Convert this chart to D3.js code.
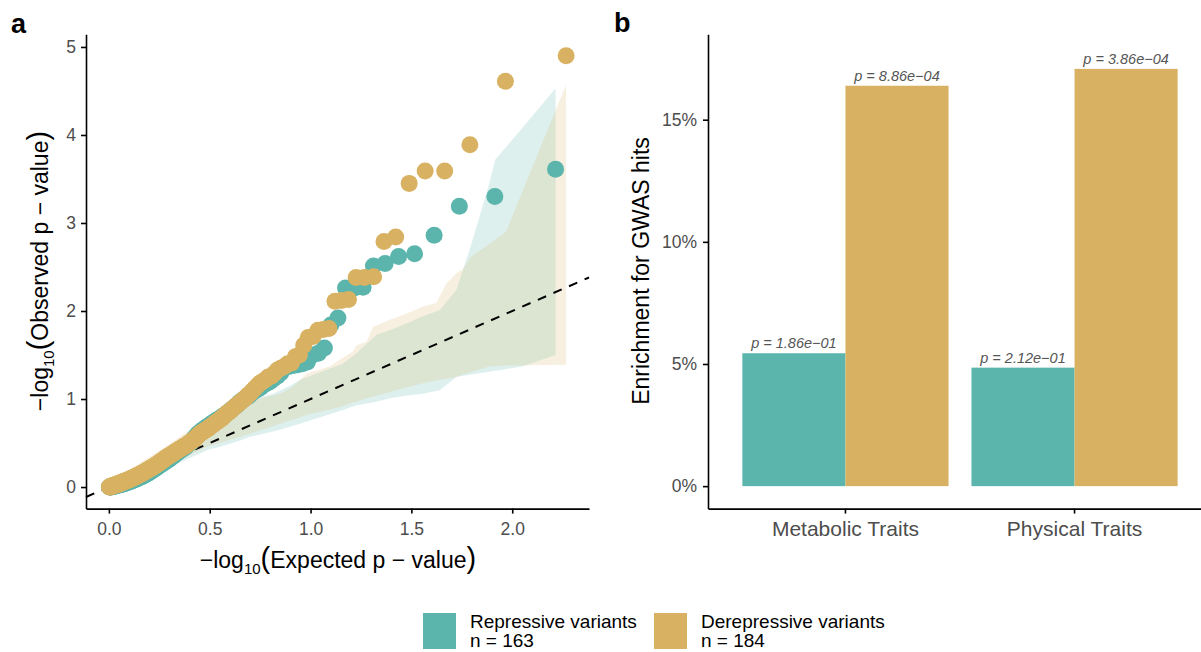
<!DOCTYPE html>
<html>
<head>
<meta charset="utf-8">
<title>QQ plot and GWAS enrichment</title>
<script src="https://d3js.org/d3.v7.min.js"></script>
<style>
    body { margin: 0; background: #fff; }
    svg text { font-family: "Liberation Sans", Arial, Helvetica, sans-serif; }
    .axis path, .axis line { stroke: #000; stroke-width: 1.6px; }
    .axis text { fill: #4d4d4d; }
</style>
</head>
<body>
<div id="chart"></div>
<script>
// 1. Data

// panel a: observed -log10(p), sorted by rank (largest first)
const repressiveObs = [
    3.61, 3.30, 3.19, 2.86, 2.65, 2.62, 2.54, 2.51, 2.27, 2.26, 2.26, 1.92, 1.84, 1.58, 1.52, 1.50,
    1.42, 1.40, 1.39, 1.38, 1.37, 1.36, 1.30, 1.26, 1.23, 1.20,
    1.18, 1.16, 1.13, 1.11, 1.09, 1.07, 1.04, 1.02, 1.00, 0.98,
    0.96, 0.93, 0.91, 0.89, 0.87, 0.85, 0.83, 0.81, 0.80, 0.78,
    0.77, 0.76, 0.74, 0.73, 0.72, 0.70, 0.69, 0.68, 0.66, 0.65,
    0.64, 0.62, 0.61, 0.59, 0.57, 0.55, 0.53, 0.51, 0.50, 0.49,
    0.48, 0.46, 0.45, 0.44, 0.43, 0.42, 0.41, 0.40, 0.39, 0.38, 0.37, 0.36, 0.35, 0.34, 0.33, 0.32,
    0.31, 0.31, 0.30, 0.29, 0.28, 0.28, 0.27, 0.26, 0.25, 0.25, 0.24, 0.23, 0.22, 0.22, 0.21, 0.20, 0.20, 0.19, 0.18, 0.18, 0.17,
    0.16, 0.16, 0.15, 0.15, 0.14, 0.14, 0.13, 0.13, 0.12, 0.12, 0.12, 0.11, 0.11, 0.10, 0.10, 0.10, 0.09, 0.09, 0.09, 0.08, 0.08, 0.08, 0.07, 0.07, 0.07, 0.06, 0.06,
    0.06, 0.06, 0.05, 0.05, 0.05, 0.05, 0.04, 0.04, 0.04, 0.04, 0.04, 0.03, 0.03, 0.03, 0.03, 0.03, 0.02, 0.02, 0.02, 0.02, 0.02, 0.02, 0.01, 0.01, 0.01, 0.01, 0.01, 0.01, 0.00, 0.00, 0.00, 0.00, 0.00
];
const derepressiveObs = [
    4.90, 4.61, 3.89, 3.59, 3.59, 3.45, 2.84, 2.79, 2.39, 2.38, 2.38, 2.13, 2.12, 2.11, 1.80, 1.79, 1.78, 1.71,
    1.70, 1.61, 1.50, 1.48, 1.41,
    1.40, 1.37, 1.35, 1.33, 1.29, 1.26, 1.25,
    1.22, 1.20, 1.18, 1.15, 1.12, 1.09, 1.06, 1.04, 1.01, 0.99,
    0.97, 0.95, 0.93, 0.91, 0.89, 0.87, 0.85, 0.84, 0.82, 0.80,
    0.78, 0.77, 0.75, 0.74, 0.73, 0.71, 0.70, 0.69, 0.67, 0.66,
    0.65, 0.64, 0.63, 0.62, 0.61, 0.60, 0.58, 0.57, 0.55, 0.54,
    0.53, 0.52, 0.51, 0.50, 0.49, 0.48, 0.47, 0.46, 0.46, 0.45,
    0.44, 0.43, 0.43, 0.42, 0.41, 0.40, 0.40, 0.39, 0.38, 0.37, 0.37, 0.36,
    0.35, 0.35, 0.34, 0.33, 0.33, 0.32, 0.31, 0.30, 0.30, 0.29, 0.28, 0.28, 0.27, 0.26, 0.26, 0.25, 0.24, 0.24, 0.23, 0.23, 0.22, 0.22, 0.21, 0.21,
    0.20, 0.20, 0.19, 0.19, 0.18, 0.18, 0.17, 0.17, 0.16, 0.16, 0.15, 0.15, 0.15, 0.14, 0.14, 0.13, 0.13, 0.13, 0.12, 0.12, 0.12, 0.11, 0.11, 0.11, 0.10, 0.10, 0.10, 0.09, 0.09, 0.09,
    0.08, 0.08, 0.08, 0.08, 0.07, 0.07, 0.07, 0.07, 0.06, 0.06, 0.06, 0.06, 0.05, 0.05, 0.05, 0.05, 0.04, 0.04, 0.04, 0.04, 0.03, 0.03, 0.03, 0.03, 0.03, 0.02, 0.02, 0.02, 0.02, 0.02, 0.01, 0.01, 0.01, 0.01, 0.01, 0.00, 0.00, 0.00
];

// null bands (expected, lower, upper)
const repBandX     = [0, 0.1, 0.2, 0.3, 0.4, 0.489, 0.568, 0.652, 0.701, 0.815, 0.899, 0.948, 1.160, 1.228, 1.327, 1.393, 1.480, 1.556, 1.640, 1.723, 1.796, 1.886, 1.916, 2.050, 2.215];
const repBandUpper = [0.03, 0.17, 0.32, 0.46, 0.62, 0.76, 0.84, 0.93, 0.99, 1.06, 1.15, 1.22, 1.40, 1.52, 1.73, 1.78, 1.86, 1.94, 2.01, 2.24, 2.75, 3.45, 3.72, 4.08, 4.53];
const repBandLower = [0.00, 0.05, 0.12, 0.22, 0.33, 0.42, 0.47, 0.53, 0.57, 0.63, 0.685, 0.72, 0.875, 0.93, 0.97, 1.01, 1.04, 1.06, 1.10, 1.25, 1.28, 1.31, 1.32, 1.37, 1.50];

const derBandX     = [0, 0.1, 0.2, 0.3, 0.4, 0.489, 0.652, 0.849, 0.899, 0.932, 0.981, 1.096, 1.146, 1.210, 1.228, 1.278, 1.310, 1.393, 1.475, 1.557, 1.623, 1.673, 1.722, 1.753, 1.797, 1.886, 1.969, 2.267];
const derBandUpper = [0.03, 0.19, 0.34, 0.49, 0.65, 0.80, 0.95, 1.06, 1.12, 1.18, 1.29, 1.37, 1.45, 1.54, 1.61, 1.65, 1.82, 1.90, 1.97, 2.05, 2.09, 2.31, 2.43, 2.47, 2.62, 2.76, 2.90, 4.57];
const derBandLower = [0.00, 0.06, 0.14, 0.25, 0.36, 0.46, 0.57, 0.72, 0.76, 0.78, 0.82, 0.88, 0.91, 0.96, 0.97, 1.01, 1.03, 1.08, 1.13, 1.18, 1.21, 1.23, 1.25, 1.28, 1.31, 1.37, 1.38, 1.39];

// panel b: enrichment (%)
const traitCategories = ["Metabolic Traits", "Physical Traits"];
const repressiveEnrich = [5.44, 4.85];
const derepressiveEnrich = [16.39, 17.08];
const repressivePval = ["1.86e\u221201", "2.12e\u221201"];
const derepressivePval = ["8.86e\u221204", "3.86e\u221204"];

const groupNames = ["Repressive variants", "Derepressive variants"];
const groupCounts = ["n = 163", "n = 184"];
const colRep = "#5BB5AC", colDer = "#D8B262";

// 2. SVG
const svg = d3.select("#chart").append("svg")
    .attr("width", 1201).attr("height", 652)
    .style("background", "#fff");

// build -log10(x) title with subscript and large brackets
function logTitle(x, y, rot, word) {
    const t = svg.append("text")
        .attr("transform", `translate(${x},${y}) rotate(${rot})`)
        .attr("text-anchor", "middle")
        .style("font-size", "23px").style("fill", "#000");
    t.append("tspan").text("\u2212log");
    t.append("tspan").attr("dy", 6).style("font-size", "15px").text("10");
    t.append("tspan").attr("dy", -6).style("font-size", "29px").text("(");
    t.append("tspan").text(word + " p \u2212 value");
    t.append("tspan").style("font-size", "29px").text(")");
}

// 3. Panel a: QQ plot
const xA = d3.scaleLinear().domain([-0.1134, 2.3806]).range([86, 589]);
const yA = d3.scaleLinear().domain([-0.245, 5.145]).range([508.6, 34.2]);

function qq(obs) {
    const n = obs.length;
    return obs.map((o, i) => ({ exp: -Math.log10((i + 1) / (n + 1)), obs: o }));
}

const bandArea = d3.area()
    .x(d => xA(d[0])).y0(d => yA(d[1])).y1(d => yA(d[2]));

const pa = svg.append("g");
pa.append("path")
    .datum(repBandX.map((x, i) => [x, repBandLower[i], repBandUpper[i]]))
    .attr("d", bandArea).attr("fill", colRep).attr("fill-opacity", 0.2);
pa.append("path")
    .datum(derBandX.map((x, i) => [x, derBandLower[i], derBandUpper[i]]))
    .attr("d", bandArea).attr("fill", colDer).attr("fill-opacity", 0.2);

// y = x reference
const dom = xA.domain();
pa.append("line")
    .attr("x1", xA(dom[0])).attr("y1", yA(dom[0]))
    .attr("x2", xA(dom[1])).attr("y2", yA(dom[1]))
    .attr("stroke", "#000").attr("stroke-width", 2).attr("stroke-dasharray", "9,8");

pa.selectAll(".rep").data(qq(repressiveObs)).enter().append("circle")
    .attr("cx", d => xA(d.exp)).attr("cy", d => yA(d.obs)).attr("r", 8.5).attr("fill", colRep);
pa.selectAll(".der").data(qq(derepressiveObs)).enter().append("circle")
    .attr("cx", d => xA(d.exp)).attr("cy", d => yA(d.obs)).attr("r", 8.5).attr("fill", colDer);

svg.append("g").attr("class", "axis").attr("transform", "translate(86,0)")
    .call(d3.axisLeft(yA).tickValues([0, 1, 2, 3, 4, 5]).tickFormat(d3.format("d"))
        .tickSize(5).tickSizeOuter(0).tickPadding(5))
    .selectAll("text").style("font-size", "17.5px");
svg.append("g").attr("class", "axis").attr("transform", "translate(0,508.6)")
    .call(d3.axisBottom(xA).tickValues([0, 0.5, 1, 1.5, 2]).tickFormat(d3.format(".1f"))
        .tickSize(5).tickSizeOuter(0).tickPadding(9))
    .selectAll("text").style("font-size", "17.5px");

logTitle(48, 271, -90, "Observed");
logTitle(338, 568, 0, "Expected");

svg.append("text").attr("x", 11).attr("y", 33)
    .style("font-size", "27px").style("font-weight", "bold").text("a");

// 4. Panel b: enrichment bars
const xB = d3.scaleBand().domain(traitCategories).range([708, 1212])
    .paddingInner(0.1).paddingOuter(0.15);
const xSub = d3.scaleBand().domain([0, 1]).range([0, xB.bandwidth()]);
const yB = d3.scaleLinear().domain([-0.92, 18.5]).range([508.6, 34.2]);

const barData = [];
traitCategories.forEach((c, i) => {
    barData.push({ cat: c, g: 0, v: repressiveEnrich[i], p: repressivePval[i] });
    barData.push({ cat: c, g: 1, v: derepressiveEnrich[i], p: derepressivePval[i] });
});

const pb = svg.append("g");
pb.selectAll("rect").data(barData).enter().append("rect")
    .attr("x", d => xB(d.cat) + xSub(d.g))
    .attr("width", xSub.bandwidth())
    .attr("y", d => yB(d.v))
    .attr("height", d => yB(0) - yB(d.v))
    .attr("fill", d => d.g === 0 ? colRep : colDer);

pb.selectAll(".plab").data(barData).enter().append("text")
    .attr("x", d => xB(d.cat) + xSub(d.g) + xSub.bandwidth() / 2)
    .attr("y", d => yB(d.v) - 5)
    .attr("text-anchor", "middle")
    .style("font-size", "14.5px").style("font-style", "italic").style("fill", "#555")
    .text(d => "p = " + d.p);

svg.append("g").attr("class", "axis").attr("transform", "translate(708,0)")
    .call(d3.axisLeft(yB).tickValues([0, 5, 10, 15]).tickFormat(d => d + "%")
        .tickSize(5).tickSizeOuter(0).tickPadding(6))
    .selectAll("text").style("font-size", "17.5px");
svg.append("g").attr("class", "axis").attr("transform", "translate(0,508.6)")
    .call(d3.axisBottom(xB).tickSize(5).tickSizeOuter(0).tickPadding(7))
    .selectAll("text").style("font-size", "21px");

svg.append("text")
    .attr("transform", "translate(649,271) rotate(-90)")
    .attr("text-anchor", "middle")
    .style("font-size", "23px").style("fill", "#000")
    .text("Enrichment for GWAS hits");

svg.append("text").attr("x", 614).attr("y", 32)
    .style("font-size", "27px").style("font-weight", "bold").text("b");

// 5. Legend
const legend = svg.append("g");
const legX = [423, 654];
groupNames.forEach((name, i) => {
    legend.append("rect").attr("x", legX[i]).attr("y", 613)
        .attr("width", 33).attr("height", 36)
        .attr("fill", i === 0 ? colRep : colDer);
    const t = legend.append("text").attr("x", legX[i] + 47).attr("y", 628)
        .style("font-size", "19px").style("fill", "#000");
    t.append("tspan").attr("x", legX[i] + 47).text(name);
    t.append("tspan").attr("x", legX[i] + 47).attr("dy", 19).text(groupCounts[i]);
});
</script>
</body>
</html>
